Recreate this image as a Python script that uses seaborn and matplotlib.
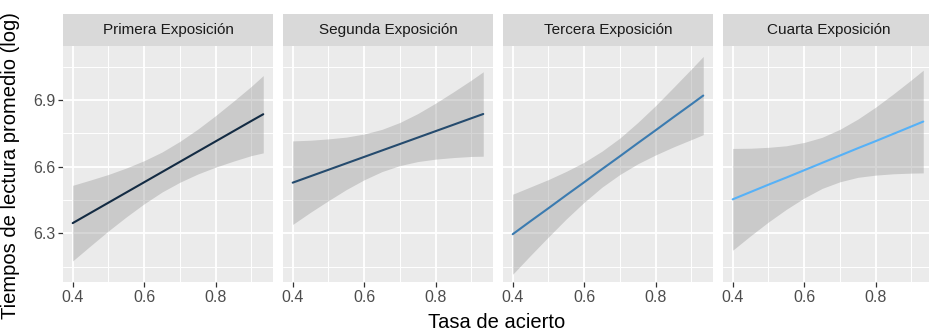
import numpy as np
import pandas as pd
import matplotlib
matplotlib.use("Agg")
import matplotlib.pyplot as plt
import seaborn as sns

# ---- data ----
panels = ["Primera Exposición", "Segunda Exposición", "Tercera Exposición", "Cuarta Exposición"]
x_pts = [0.4, 0.45, 0.5, 0.55, 0.6, 0.65, 0.7, 0.75, 0.8, 0.85, 0.9, 0.933]

fit_primera = [6.346, 6.392, 6.438, 6.484, 6.530, 6.576, 6.622, 6.668, 6.714, 6.760, 6.806, 6.836]
lo_primera = [6.176, 6.244, 6.311, 6.374, 6.433, 6.486, 6.530, 6.567, 6.598, 6.625, 6.650, 6.662]
hi_primera = [6.516, 6.540, 6.565, 6.594, 6.627, 6.666, 6.714, 6.769, 6.830, 6.895, 6.962, 7.010]

fit_segunda = [6.528, 6.557, 6.586, 6.615, 6.644, 6.673, 6.702, 6.731, 6.760, 6.789, 6.818, 6.837]
lo_segunda = [6.340, 6.395, 6.447, 6.497, 6.541, 6.578, 6.605, 6.623, 6.634, 6.641, 6.646, 6.647]
hi_segunda = [6.716, 6.719, 6.725, 6.733, 6.747, 6.768, 6.799, 6.839, 6.886, 6.937, 6.990, 7.027]

fit_tercera = [6.296, 6.355, 6.413, 6.472, 6.530, 6.589, 6.647, 6.706, 6.764, 6.823, 6.881, 6.920]
lo_tercera = [6.116, 6.201, 6.284, 6.365, 6.440, 6.508, 6.565, 6.613, 6.653, 6.689, 6.722, 6.744]
hi_tercera = [6.476, 6.509, 6.542, 6.579, 6.620, 6.670, 6.729, 6.799, 6.875, 6.957, 7.040, 7.096]

fit_cuarta = [6.453, 6.486, 6.519, 6.551, 6.584, 6.617, 6.650, 6.683, 6.715, 6.748, 6.781, 6.803]
lo_cuarta = [6.224, 6.289, 6.351, 6.408, 6.459, 6.502, 6.532, 6.552, 6.562, 6.568, 6.571, 6.572]
hi_cuarta = [6.682, 6.683, 6.687, 6.694, 6.709, 6.732, 6.768, 6.814, 6.868, 6.928, 6.991, 7.034]

x_ticks = [0.4, 0.6, 0.8]
x_tick_labels = ["0.4", "0.6", "0.8"]
y_ticks = [6.3, 6.6, 6.9]
y_tick_labels = ["6.3", "6.6", "6.9"]

fits = [fit_primera, fit_segunda, fit_tercera, fit_cuarta]
los = [lo_primera, lo_segunda, lo_tercera, lo_cuarta]
his = [hi_primera, hi_segunda, hi_tercera, hi_cuarta]

rows = []
for p, f, lo, hi in zip(panels, fits, los, his):
    for xv, fv, lv, hv in zip(x_pts, f, lo, hi):
        rows.append({"panel": p, "x": xv, "fit": fv, "lo": lv, "hi": hv})
df = pd.DataFrame(rows)

line_colors = ["#132B43", "#254B6E", "#3B7BB0", "#56B1F7"]

# ---- styling ----
sns.set_theme(style="white")
plt.rcParams["font.family"] = ["Liberation Sans", "DejaVu Sans"]

W, H = 930, 333
fig = plt.figure(figsize=(W / 100, H / 100), dpi=100)

panel_lefts = [63.3, 283.3, 503.3, 723.3]
panel_widths = [210, 210, 210, 206]
top_px, bot_px, strip_top = 46, 282, 14
px_per_x = 357.5
x_left = 0.4 - (72.7 - 63.3) / px_per_x
ylim = (6.081, 7.143)

for i, (p, col) in enumerate(zip(panels, line_colors)):
    L, Wd = panel_lefts[i], panel_widths[i]
    ax = fig.add_axes([L / W, (H - bot_px) / H, Wd / W, (bot_px - top_px) / H])
    ax.set_facecolor("#EBEBEB")
    for s in ax.spines.values():
        s.set_visible(False)
    ax.set_xlim(x_left, x_left + Wd / px_per_x)
    ax.set_ylim(*ylim)
    # grid
    for mx in [0.5, 0.7, 0.9]:
        ax.axvline(mx, color="white", lw=0.7, zorder=0.5)
    for my in [6.15, 6.45, 6.75, 7.05]:
        ax.axhline(my, color="white", lw=0.7, zorder=0.5)
    for mx in x_ticks:
        ax.axvline(mx, color="white", lw=1.3, zorder=0.6)
    for my in y_ticks:
        ax.axhline(my, color="white", lw=1.3, zorder=0.6)

    sub = df[df["panel"] == p]
    ax.fill_between(sub["x"], sub["lo"], sub["hi"], color="#999999", alpha=0.4, lw=0, zorder=1)
    sns.lineplot(data=sub, x="x", y="fit", color=col, lw=1.5, ax=ax, zorder=2, legend=False)

    ax.set_xticks(x_ticks)
    ax.set_xticklabels(x_tick_labels)
    ax.set_yticks(y_ticks)
    if i == 0:
        ax.set_yticklabels(y_tick_labels)
        ax.tick_params(axis="y", left=True, length=3.5, width=0.9, color="#333333",
                       labelsize=11.5, labelcolor="#4D4D4D", pad=2)
    else:
        ax.set_yticklabels([])
        ax.tick_params(axis="y", left=False, length=0)
    ax.tick_params(axis="x", bottom=True, length=3.5, width=0.9, color="#333333",
                   labelsize=11.5, labelcolor="#4D4D4D", pad=2)
    ax.set_xlabel("")
    ax.set_ylabel("")
    ax.grid(False)

    # strip
    sax = fig.add_axes([L / W, (H - top_px) / H, Wd / W, (top_px - strip_top) / H])
    sax.set_facecolor("#D9D9D9")
    sax.set_xticks([])
    sax.set_yticks([])
    for s in sax.spines.values():
        s.set_visible(False)
    sax.text(0.5 * 210 / Wd, 0.5, p, ha="center", va="center", fontsize=11,
             color="#1A1A1A", transform=sax.transAxes)

fig.text(497 / W, 1 - 322 / H, "Tasa de acierto", ha="center", va="center",
         fontsize=14.5, color="black")
fig.text(11 / W, 1 - 166 / H, "Tiempos de lectura promedio (log)", ha="center",
         va="center", rotation=90, fontsize=14.5, color="black")

fig.savefig("out.png", dpi=100, facecolor="white")
